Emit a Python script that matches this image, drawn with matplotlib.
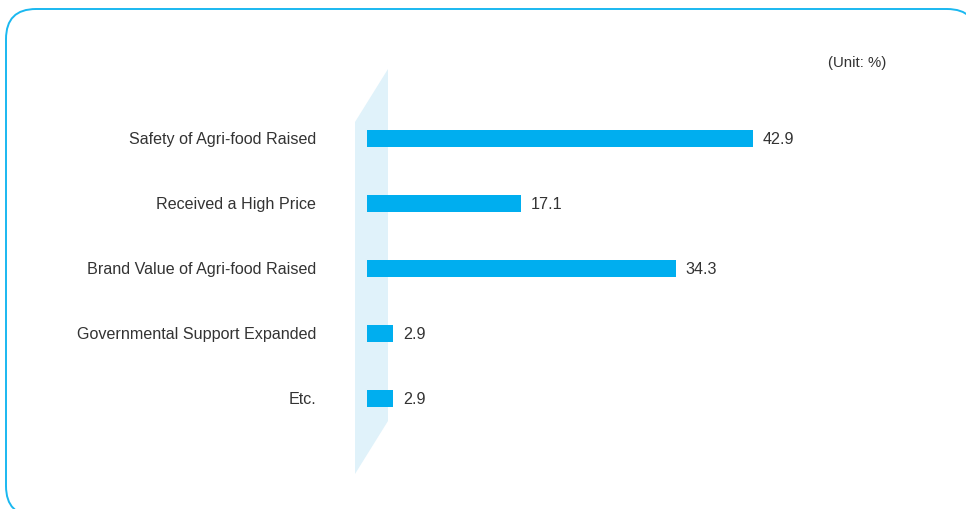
import matplotlib
matplotlib.use("Agg")
import matplotlib.pyplot as plt
from matplotlib.patches import Polygon, FancyBboxPatch
from matplotlib.transforms import IdentityTransform
from matplotlib import font_manager

categories = ["Safety of Agri-food Raised", "Received a High Price",
              "Brand Value of Agri-food Raised", "Governmental Support Expanded", "Etc."]
values = [42.9, 17.1, 34.3, 2.9, 2.9]
value_labels = ["42.9", "17.1", "34.3", "2.9", "2.9"]
unit_label = "(Unit: %)"

names = {f.name for f in font_manager.fontManager.ttflist}
fam = "Liberation Sans Narrow" if "Liberation Sans Narrow" in names else "Liberation Sans"
plt.rcParams["font.family"] = [fam, "DejaVu Sans"]
lab_size = 12.5 if fam == "Liberation Sans Narrow" else 11.6

W, H = 966, 510
fig = plt.figure(figsize=(W / 100, H / 100), dpi=100)
fig.patch.set_facecolor("white")

def px(x, y):
    return (x, H - y)

# rounded border (pixel coordinates)
box = FancyBboxPatch(px(6, 517), 971, 507,
                     boxstyle="round,pad=0,rounding_size=30",
                     transform=IdentityTransform(), facecolor="white",
                     edgecolor="#1AB8F0", linewidth=1.4, zorder=0)
fig.patches.append(box)

# light blue wall
wall = Polygon([px(355, 123), px(388, 70), px(388, 422), px(355, 475)],
               closed=True, transform=IdentityTransform(),
               facecolor="#E0F2FA", edgecolor="none", zorder=1)
fig.patches.append(wall)

ax = fig.add_axes([0, 0, 1, 1])
ax.set_facecolor("none")
ax.set_zorder(2)
scale = 9.0   # pixels per unit
x0 = 367.0
ax.set_xlim(-x0 / scale, (W - x0) / scale)
y_top, step = 139.5, 65.0
ax.set_ylim((H - y_top) / step, -y_top / step)
ax.axis("off")

ypos = list(range(len(categories)))
ax.barh(ypos, values, height=0.262, color="#00AEEF", zorder=3)

for i, (c, v, vl) in enumerate(zip(categories, values, value_labels)):
    ax.annotate(c, xy=(0, i), xytext=(-51, 0), textcoords="offset pixels",
                ha="right", va="center", fontsize=lab_size, color="#333333")
    ax.annotate(vl, xy=(v, i), xytext=(10, 0), textcoords="offset pixels",
                ha="left", va="center", fontsize=lab_size, color="#333333")

fig.text(857 / W, 1 - 63 / H, unit_label, ha="center", va="center",
         fontsize=lab_size - 0.8, color="#333333")

fig.savefig("out.png", dpi=100)
